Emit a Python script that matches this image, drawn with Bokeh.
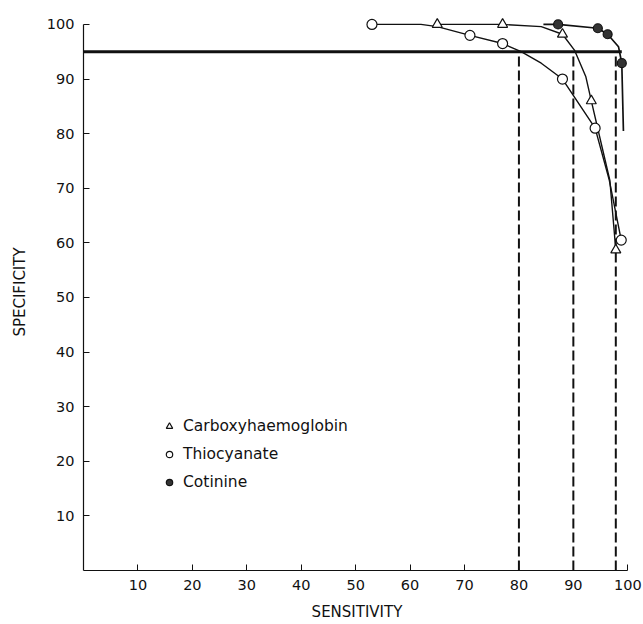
from bokeh.plotting import figure
from bokeh.models import Range1d, FixedTicker, Legend, LegendItem
from bokeh.embed import file_html
from bokeh.resources import INLINE

# ---- data ----
# measured points (markers)
carb_sens = [65, 77, 88, 93.3, 97.8]
carb_spec = [100, 100, 98.2, 86, 58.7]

thio_sens = [53, 71, 77, 88, 94, 98.8]
thio_spec = [100, 98, 96.5, 90, 81, 60.5]

cot_sens = [87.2, 94.5, 96.3, 98.9]
cot_spec = [100, 99.3, 98.2, 92.9]

# hand-drawn curves
carb_curve_sens = [65, 77, 84.1, 88, 90.2, 92.3, 93.3, 95.4, 96.7, 97.8]
carb_curve_spec = [100, 100, 99.6, 98.2, 95.3, 90.4, 86, 77, 71.5, 58.7]

thio_curve_sens = [53, 62, 65, 71, 77, 80.4, 84.1, 88, 94, 96.6, 98.8]
thio_curve_spec = [100, 100, 99.6, 98, 96.5, 95, 92.9, 90, 81, 71.5, 60.5]

cot_curve_sens = [84.5, 87.2, 94.5, 96.3, 98.3, 98.9, 99.2]
cot_curve_spec = [100, 100, 99.3, 98.2, 95.9, 92.9, 80.5]

cutoff_spec = 95
cutoff_spec_end = 98.9
cutoff_sens = [80, 90, 97.8]

ticks = [10, 20, 30, 40, 50, 60, 70, 80, 90, 100]

FONT = "DejaVu Sans"
INK = "#111111"

p = figure(width=643, height=624, output_backend="svg", toolbar_location=None,
           x_range=Range1d(0, 100.5), y_range=Range1d(0, 102),
           min_border_left=83, min_border_right=13, min_border_top=13, min_border_bottom=54)
p.outline_line_color = None
p.grid.visible = False
p.background_fill_color = "white"
p.border_fill_color = "white"

for ax in (p.xaxis[0], p.yaxis[0]):
    ax.ticker = FixedTicker(ticks=ticks)
    ax.bounds = (0, 100)
    ax.minor_tick_line_color = None
    ax.major_tick_in = 6
    ax.major_tick_out = 0
    ax.major_tick_line_color = INK
    ax.axis_line_color = INK
    ax.axis_line_width = 1.2
    ax.major_label_text_font = FONT
    ax.major_label_text_font_size = "14.5px"
    ax.major_label_text_color = INK
    ax.axis_label_text_font = FONT
    ax.axis_label_text_font_size = "15px"
    ax.axis_label_text_font_style = "normal"
    ax.axis_label_text_color = INK
    ax.major_label_standoff = 9

p.xaxis.axis_label = "SENSITIVITY"
p.yaxis.axis_label = "SPECIFICITY"
p.xaxis.axis_label_standoff = 10
p.yaxis.axis_label_standoff = 15

# cut-off lines
p.segment(x0=[0], y0=[cutoff_spec], x1=[cutoff_spec_end], y1=[cutoff_spec],
          line_color=INK, line_width=3)
p.segment(x0=cutoff_sens, y0=[0] * len(cutoff_sens), x1=cutoff_sens,
          y1=[cutoff_spec] * len(cutoff_sens),
          line_color=INK, line_width=2, line_dash="10 4")

# curves
p.line(carb_curve_sens, carb_curve_spec, line_color=INK, line_width=1.4)
p.line(thio_curve_sens, thio_curve_spec, line_color=INK, line_width=1.4)
p.line(cot_curve_sens, cot_curve_spec, line_color=INK, line_width=1.7)

# markers
r_carb = p.scatter(carb_sens, carb_spec, marker="triangle", size=10,
                   fill_color="white", line_color=INK, line_width=1.2)
r_thio = p.scatter(thio_sens, thio_spec, marker="circle", size=10,
                   fill_color="white", line_color=INK, line_width=1.2)
r_cot = p.scatter(cot_sens, cot_spec, marker="circle", size=9,
                  fill_color="#333333", line_color=INK, line_width=1.2)

legend = Legend(items=[
    LegendItem(label="Carboxyhaemoglobin", renderers=[r_carb]),
    LegendItem(label="Thiocyanate", renderers=[r_thio]),
    LegendItem(label="Cotinine", renderers=[r_cot]),
], location=(78, 78))
legend.border_line_color = None
legend.background_fill_alpha = 0
legend.padding = 0
legend.margin = 0
legend.spacing = 8
legend.glyph_width = 16
legend.glyph_height = 20
legend.label_height = 20
legend.label_standoff = 6
legend.label_text_font = FONT
legend.label_text_font_size = "15.5px"
legend.label_text_color = INK
p.add_layout(legend, "center")

open("out.html", "w").write(file_html(p, INLINE))
